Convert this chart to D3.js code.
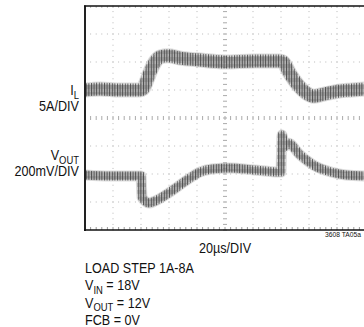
<!DOCTYPE html>
<html><head><meta charset="utf-8">
<script src="https://cdn.jsdelivr.net/npm/d3@7/dist/d3.min.js"></script>
<style>
html,body{margin:0;padding:0;background:#fff;overflow:hidden}
text{font-family:"Liberation Sans",Arial,sans-serif;fill:#111}
</style></head>
<body>
<svg id="c" width="364" height="327"></svg>
<script>
// ---- data ----
// time in µs (20 µs/div, 10 div)
const ilTime = [0,10.7,25,39.3,41.4,44.3,47.1,50,53.6,59.3,67.9,80,100,120.7,139.3,141.4,146.4,152.1,157.9,163.6,171.4,181.4,190.7,200];
// inductor current in A (5 A/div)
const ilAmps = [1.0,1.2,1.0,1.0,1.2,2.8,4.6,6.0,6.9,7.1,6.7,6.4,6.0,6.2,6.2,6.0,3.9,1.9,0.5,-0.1,0.3,0.8,1.0,1.2];
// output voltage deviation in mV (200 mV/div)
const voTime = [0,17.9,40,40.7,42.9,45.7,50,60.7,72.9,82.1,90.7,103.6,120.7,138.6,140,140.7,142.1,145,153.6,164.3,175.7,186.4,200];
const voMv = [-7,-14,-14,-164,-193,-207,-193,-129,-43,14,36,43,29,14,14,279,193,221,136,57,14,-7,-14];
const xDivs = 10, yDivs = 8, minorPerDiv = 5;
const chLabels = [{main:"I",sub:"L",scale:"5A/DIV"},{main:"V",sub:"OUT",scale:"200mV/DIV"}];
const timeLabel = "20µs/DIV";
const figId = "3608 TA05a";
const notes = [[{t:"LOAD STEP 1A-8A"}],[{t:"V"},{t:"IN",s:1},{t:" = 18V"}],[{t:"V"},{t:"OUT",s:1},{t:" = 12V"}],[{t:"FCB = 0V"}]];

// ---- layout ----
const svg = d3.select("#c");
const L = 85, R = 365, T = 6, B = 230;
const SX = 0.84;
const x = d3.scaleLinear().domain([0,200]).range([L,R]);
const yIL = d3.scaleLinear().domain([-24,16]).range([B,T]);
const yV = d3.scaleLinear().domain([-400,1200]).range([B,T]);
const gx = d3.scaleLinear().domain([0,xDivs]).range([L,R]);
const gy = d3.scaleLinear().domain([0,yDivs]).range([B,T]);

const defs = svg.append("defs");
const pat = defs.append("pattern").attr("id","rip").attr("patternUnits","userSpaceOnUse")
  .attr("width",2.6).attr("height",7);
pat.append("rect").attr("x",0).attr("y",0).attr("width",1).attr("height",7).attr("fill","#333");
pat.append("rect").attr("x",1.3).attr("y",1).attr("width",0.8).attr("height",4).attr("fill","#777");

const grid = svg.append("g");
for (let i=1;i<xDivs;i++){
  if (i===xDivs/2) continue;
  for (let j=0;j<=yDivs*minorPerDiv;j++){
    grid.append("rect").attr("x",gx(i)-0.5).attr("y",gy(j/minorPerDiv)-0.5).attr("width",1).attr("height",1).attr("fill","#b8b8b8");
  }
}
for (let j=1;j<yDivs;j++){
  if (j===yDivs/2) continue;
  for (let i=0;i<=xDivs*minorPerDiv;i++){
    grid.append("rect").attr("x",gx(i/minorPerDiv)-0.5).attr("y",gy(j)-0.5).attr("width",1).attr("height",1).attr("fill","#b8b8b8");
  }
}
for (let i=0;i<=xDivs*minorPerDiv;i++){
  grid.append("line").attr("x1",gx(i/minorPerDiv)).attr("x2",gx(i/minorPerDiv))
    .attr("y1",gy(yDivs/2)-2).attr("y2",gy(yDivs/2)+2).attr("stroke","#aaa").attr("stroke-width",1);
  grid.append("line").attr("x1",gx(i/minorPerDiv)).attr("x2",gx(i/minorPerDiv))
    .attr("y1",B-3).attr("y2",B).attr("stroke","#999").attr("stroke-width",1);
  grid.append("line").attr("x1",gx(i/minorPerDiv)).attr("x2",gx(i/minorPerDiv))
    .attr("y1",T).attr("y2",T+2).attr("stroke","#bbb").attr("stroke-width",1);
}
for (let j=0;j<=yDivs*minorPerDiv;j++){
  grid.append("line").attr("y1",gy(j/minorPerDiv)).attr("y2",gy(j/minorPerDiv))
    .attr("x1",gx(xDivs/2)-2).attr("x2",gx(xDivs/2)+2).attr("stroke","#aaa").attr("stroke-width",1);
}

// traces: soft band + vertical ripple texture
function trace(tArr, vArr, ys, w){
  const pts = tArr.map((t,i)=>[x(t), ys(vArr[i])]);
  const line = d3.line().curve(d3.curveMonotoneX);
  const d = line(pts);
  svg.append("path").attr("d",d).attr("fill","none").attr("stroke","#9a9a9a")
    .attr("stroke-width",w+2).attr("stroke-linejoin","bevel").attr("opacity",0.35);
  svg.append("path").attr("d",d).attr("fill","none").attr("stroke","#8a8a8a")
    .attr("stroke-width",w-3).attr("stroke-linejoin","bevel").attr("opacity",0.5);
  svg.append("path").attr("d",d).attr("fill","none").attr("stroke","url(#rip)")
    .attr("stroke-width",w).attr("stroke-linejoin","bevel").attr("stroke-linecap","butt").attr("opacity",0.8);
}
trace(ilTime, ilAmps, yIL, 13);
trace(voTime, voMv, yV, 9);

// frame
svg.append("line").attr("x1",L).attr("x2",L).attr("y1",T-0.5).attr("y2",B+1).attr("stroke","#222").attr("stroke-width",2);
svg.append("line").attr("x1",L-1).attr("x2",364).attr("y1",T).attr("y2",T).attr("stroke","#111").attr("stroke-width",1.5);
svg.append("line").attr("x1",L-1).attr("x2",364).attr("y1",B).attr("y2",B).attr("stroke","#111").attr("stroke-width",1.5);

// text helper (condensed look)
function addText(px, py, anchor, size, parts, sx){
  const g = svg.append("g").attr("transform",`translate(${px},${py}) scale(${sx||SX},1)`);
  const t = g.append("text").attr("x",0).attr("y",0).attr("text-anchor",anchor).attr("font-size",size);
  let sub=false;
  parts.forEach(p=>{
    const s = t.append("tspan").text(p.t);
    if (p.s && !sub){ s.attr("font-size",size*0.75).attr("dy",3.5); sub=true; }
    else if (!p.s && sub){ s.attr("dy",-3.5); sub=false; }
  });
  return t;
}
const chY = [[95,111],[160,176]];
chLabels.forEach((c,i)=>{
  addText(79, chY[i][0], "end", 15, [{t:c.main},{t:c.sub,s:1}]);
  addText(79, chY[i][1], "end", 15, [{t:c.scale}]);
});
addText(gx(xDivs/2), 253, "middle", 15, [{t:timeLabel}]);
addText(325, 237, "start", 8, [{t:figId}]);
const noteY = [273,290,307.5,324.5];
notes.forEach((n,i)=> addText(L, noteY[i], "start", 15, n));
</script>
</body></html>
